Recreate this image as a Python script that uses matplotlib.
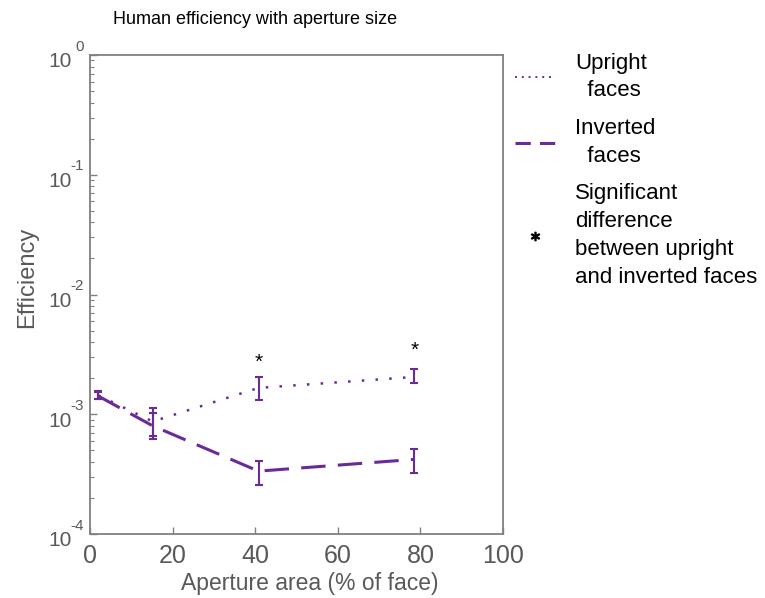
import numpy as np
import matplotlib.pyplot as plt
from matplotlib.lines import Line2D

plt.rcParams['font.family'] = ['Liberation Sans', 'DejaVu Sans']

# aperture area (% of face)
aperture = [2.0, 15.2, 40.8, 78.5]

# efficiency, upright faces
upright = [1.44e-3, 8.7e-4, 1.66e-3, 2.05e-3]
upright_hi = [1.55e-3, 1.12e-3, 2.05e-3, 2.40e-3]
upright_lo = [1.35e-3, 6.6e-4, 1.32e-3, 1.81e-3]

# efficiency, inverted faces
inverted = [1.42e-3, 8.0e-4, 3.35e-4, 4.2e-4]
inverted_hi = [1.52e-3, 1.02e-3, 4.1e-4, 5.1e-4]
inverted_lo = [1.33e-3, 6.2e-4, 2.57e-4, 3.25e-4]

# significance markers
star_x = [40.8, 78.5]
star_y = [2.7e-3, 3.4e-3]

# decades on the efficiency axis
y_exponents = [-4, -3, -2, -1, 0]

purple = '#6a2b98'
grey = '#595959'

fig = plt.figure(figsize=(7.65, 5.98), dpi=100)
ax = fig.add_axes([0.1176, 0.107, 0.540, 0.801])

up = np.array(upright)
inv = np.array(inverted)
up_err = [up - np.array(upright_lo), np.array(upright_hi) - up]
inv_err = [inv - np.array(inverted_lo), np.array(inverted_hi) - inv]

ax.errorbar(aperture, upright, yerr=up_err, color=purple, linestyle=(0, (1, 4.5)),
            linewidth=1.8, elinewidth=1.5, capsize=3, capthick=1.5)
ax.errorbar(aperture, inverted, yerr=inv_err, color=purple, linestyle=(0, (8, 4)),
            linewidth=2.2, elinewidth=1.5, capsize=3, capthick=1.5)

for sx, sy in zip(star_x, star_y):
    ax.text(sx, sy, '*', ha='center', va='center', fontsize=15, color='black')

ax.set_yscale('log')
ax.set_ylim(1e-4, 1)
ax.set_xlim(0, 100)
ax.set_xticks([0, 20, 40, 60, 80, 100])
ax.set_yticks([10.0 ** e for e in y_exponents])
ax.set_yticklabels([])

# "10" with a raised exponent, MATLAB style
for e in y_exponents:
    ax.annotate('10', xy=(0, 10.0 ** e), xycoords=('axes fraction', 'data'),
                xytext=(-13, -5), textcoords='offset points',
                ha='right', va='center', fontsize=15, color=grey)
    ax.annotate(str(e), xy=(0, 10.0 ** e), xycoords=('axes fraction', 'data'),
                xytext=(-4.5, 6), textcoords='offset points',
                ha='right', va='center', fontsize=11, color=grey)

for side in ax.spines.values():
    side.set_color('#808080')
    side.set_linewidth(1.3)

ax.tick_params(axis='both', which='both', direction='in', colors='#808080',
               labelcolor=grey)
ax.tick_params(axis='both', which='major', length=5, width=1.0)
ax.tick_params(axis='y', which='minor', length=3, width=0.8, labelleft=False)
ax.tick_params(axis='x', labelsize=18, pad=7)

ax.set_xlabel('Aperture area (% of face)', fontsize=16.5, color=grey)
ax.xaxis.set_label_coords(0.533, -0.079)
ax.set_ylabel('Efficiency', fontsize=17, color=grey)
ax.yaxis.set_label_coords(-0.126, 0.536)
ax.set_title('Human efficiency with aperture size', fontsize=13, color='black',
             pad=22, x=0.40)

handles = [
    Line2D([], [], color=purple, linestyle=(0, (1, 2.5)), linewidth=1.4),
    Line2D([], [], color=purple, linestyle=(0, (5, 3)), linewidth=2.2),
    Line2D([], [], color='black', linestyle='none', marker='$*$', markersize=6),
]
labels = ['Upright\n  faces', 'Inverted\n  faces',
          'Significant\ndifference\nbetween upright\nand inverted faces']
leg = ax.legend(handles, labels, loc='upper left', bbox_to_anchor=(1.029, 1.005),
                frameon=False, fontsize=16, handlelength=1.8, handletextpad=0.9,
                labelspacing=0.75, borderaxespad=0, borderpad=0)
for t in leg.get_texts():
    t.set_linespacing(1.42)

fig.savefig('out.png', dpi=100)
